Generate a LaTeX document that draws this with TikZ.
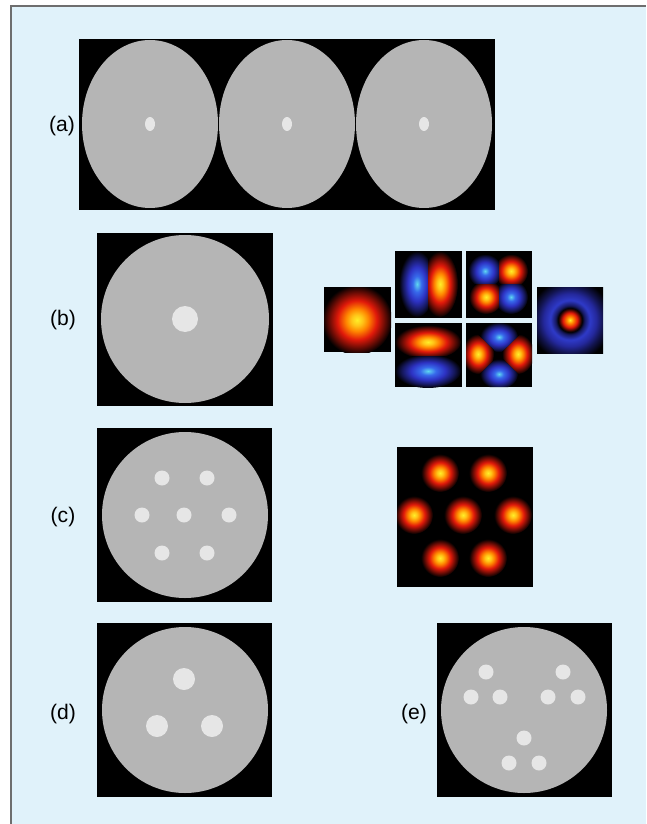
\documentclass[tikz,border=0pt]{standalone}
\usepackage{fontspec}
\setmainfont{Liberation Sans}

\definecolor{panelbg}{RGB}{224,242,250}
\definecolor{framegray}{RGB}{110,110,110}
\definecolor{phantomgray}{RGB}{181,181,181}
\definecolor{insertgray}{RGB}{230,230,230}
\definecolor{hotyellow}{RGB}{255,238,40}
\definecolor{hotorange}{RGB}{255,135,0}
\definecolor{hotred}{RGB}{225,25,10}
\definecolor{coldcyan}{RGB}{95,215,240}
\definecolor{coldblue}{RGB}{55,105,235}
\definecolor{deepblue}{RGB}{45,50,195}

% stops run out to 25bp, which is the edge of the shaded path
\pgfdeclareradialshading{hot}{\pgfpoint{0bp}{0bp}}{%
    color(0bp)=(hotyellow); color(4bp)=(hotyellow!60!hotorange); color(8bp)=(hotorange);
    color(14bp)=(hotred); color(20bp)=(hotred!45!black); color(25bp)=(black);
    color(50bp)=(black)}
\pgfdeclareradialshading{cold}{\pgfpoint{0bp}{0bp}}{%
    color(0bp)=(coldcyan); color(6bp)=(coldblue); color(13bp)=(deepblue);
    color(20bp)=(deepblue!45!black); color(25bp)=(black); color(50bp)=(black)}
\pgfdeclareradialshading{ring}{\pgfpoint{0bp}{0bp}}{%
    color(0bp)=(hotyellow); color(2.5bp)=(hotorange); color(5.5bp)=(hotred);
    color(7.5bp)=(hotred!40!black); color(9bp)=(black);
    color(11bp)=(deepblue!50!black); color(15bp)=(deepblue!85!coldblue);
    color(20bp)=(deepblue!80!black); color(25bp)=(deepblue!40!black);
    color(31bp)=(black); color(50bp)=(black)}

\tikzset{
    sheet/.style={fill=black},
    phantom/.style={fill=phantomgray},
    insert/.style={fill=insertgray},
    tag/.style={font=\fontsize{18}{20}\selectfont, inner sep=0pt}
}

\begin{document}
\begin{tikzpicture}[x=0.03cm, y=-0.03cm]
            \useasboundingbox (0,0) rectangle (646,824);

            \fill[panelbg] (11,6) rectangle (646,824);
            \draw[framegray, line width=1.1pt] (11,824) -- (11,6) -- (646,6);

            % (a) three slices side by side
            \fill[sheet] (79,39) rectangle (495,210);
            \fill[phantom] (150,124) ellipse [x radius=68, y radius=84];
            \fill[phantom] (287,124) ellipse [x radius=68, y radius=84];
            \fill[phantom] (424,124) ellipse [x radius=68, y radius=84];
            \fill[insert] (150,124) ellipse [x radius=5, y radius=7];
            \fill[insert] (287,124) ellipse [x radius=5, y radius=7];
            \fill[insert] (424,124) ellipse [x radius=5, y radius=7];

            \node[tag, name=taga] at (62,126) {(a)};

            % (b) one insert and the mode patterns
            \fill[sheet] (97,233) rectangle (273,406);
            \fill[phantom] (185,319) circle [radius=84];
            \fill[insert] (185,319) circle [radius=13];

            \node[tag, name=tagb] at (63,320) {(b)};

            \fill[sheet] (324,287) rectangle (391,352);
            \begin{scope}
                \clip (324,287) rectangle (391,352);
                \shade[shading=hot] (357,320) circle [radius=35];
            \end{scope}

            \fill[sheet] (395,251) rectangle (462,318);
            \begin{scope}
                \clip (395,251) rectangle (428,318);
                \shade[shading=cold] (417,284) ellipse [x radius=18, y radius=33];
            \end{scope}
            \begin{scope}
                \clip (428,251) rectangle (462,318);
                \shade[shading=hot] (440,284) ellipse [x radius=18, y radius=33];
            \end{scope}

            \fill[sheet] (466,251) rectangle (532,318);
            \begin{scope}
                \clip (466,251) rectangle (499,284);
                \shade[shading=cold] (485,271) circle [radius=17];
            \end{scope}
            \begin{scope}
                \clip (499,251) rectangle (532,284);
                \shade[shading=hot] (511,271) circle [radius=17];
            \end{scope}
            \begin{scope}
                \clip (466,284) rectangle (499,318);
                \shade[shading=hot] (486,297) circle [radius=17];
            \end{scope}
            \begin{scope}
                \clip (499,284) rectangle (532,318);
                \shade[shading=cold] (511,297) circle [radius=17];
            \end{scope}

            \fill[sheet] (395,323) rectangle (462,387);
            \begin{scope}
                \clip (395,323) rectangle (462,356);
                \shade[shading=hot] (428,342) ellipse [x radius=33, y radius=17];
            \end{scope}
            \begin{scope}
                \clip (395,356) rectangle (462,387);
                \shade[shading=cold] (428,371) ellipse [x radius=33, y radius=17];
            \end{scope}

            \fill[sheet] (466,323) rectangle (532,387);
            \begin{scope}
                \clip (466,323) -- (532,323) -- (499,355) -- cycle;
                \shade[shading=cold] (499,337) ellipse [x radius=19, y radius=15];
            \end{scope}
            \begin{scope}
                \clip (466,387) -- (532,387) -- (499,355) -- cycle;
                \shade[shading=cold] (499,374) ellipse [x radius=19, y radius=15];
            \end{scope}
            \begin{scope}
                \clip (466,323) -- (466,387) -- (499,355) -- cycle;
                \shade[shading=hot] (478,354) ellipse [x radius=16, y radius=20];
            \end{scope}
            \begin{scope}
                \clip (532,323) -- (532,387) -- (499,355) -- cycle;
                \shade[shading=hot] (518,354) ellipse [x radius=16, y radius=20];
            \end{scope}

            \shade[shading=ring] (537,287) rectangle (603,353);

            % (c) seven inserts and the spot pattern
            \fill[sheet] (97,428) rectangle (272,602);
            \fill[phantom] (185,515) circle [radius=83];
            \foreach \px/\py in {162/478, 207/478, 142/515, 184/515, 229/515, 162/553, 207/553}
                \fill[insert] (\px,\py) circle [radius=7.5];

            \node[tag, name=tagc] at (63,517) {(c)};

            \fill[sheet] (397,447) rectangle (533,587);
            \begin{scope}
                \clip (397,447) rectangle (533,587);
                \foreach \px/\py in {440/473, 488/473, 414/515, 463/515, 513/515, 440/558, 488/558}
                    \shade[shading=hot] (\px,\py) circle [radius=19];
            \end{scope}

            % (d) three large inserts
            \fill[sheet] (97,623) rectangle (272,797);
            \fill[phantom] (185,710) circle [radius=83];
            \fill[insert] (184,679) circle [radius=11];
            \fill[insert] (157,726) circle [radius=11];
            \fill[insert] (212,726) circle [radius=11];

            \node[tag, name=tagd] at (63,714) {(d)};

            % (e) nine small inserts
            \fill[sheet] (437,623) rectangle (612,797);
            \fill[phantom] (524,710) circle [radius=83];
            \foreach \px/\py in {486/672, 563/672, 471/697, 500/697, 548/697, 578/697, 524/738, 509/763, 539/763}
                \fill[insert] (\px,\py) circle [radius=7.5];

            \node[tag, name=tage] at (414,714) {(e)};
        \end{tikzpicture}
\end{document}
